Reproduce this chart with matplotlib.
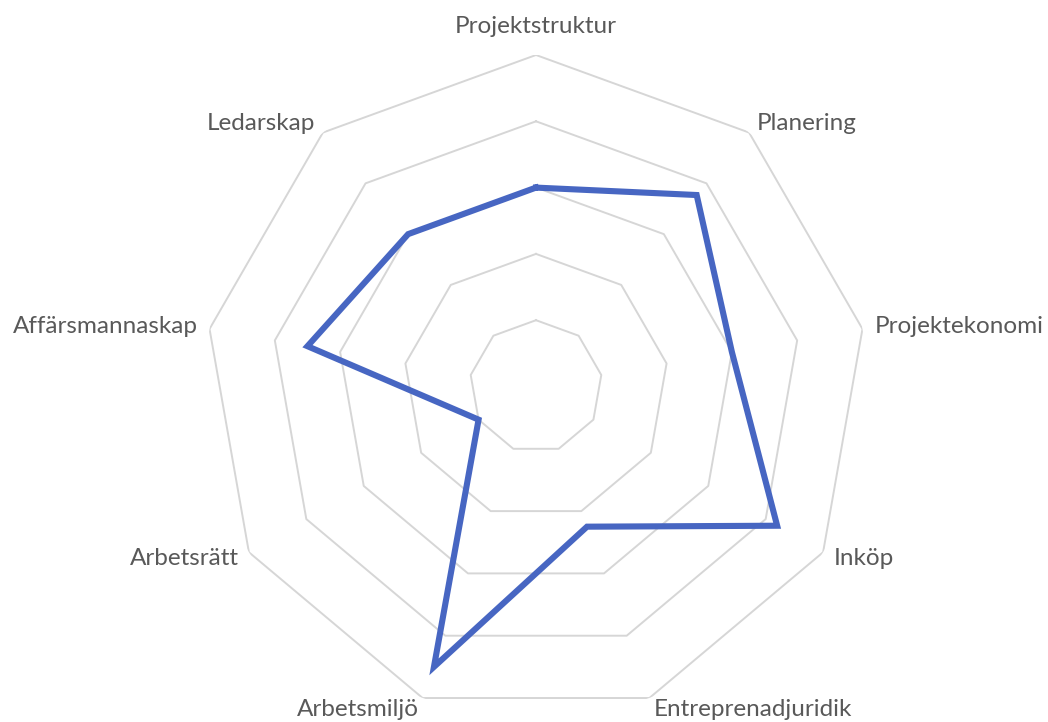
import numpy as np
import matplotlib.pyplot as plt

# Kategorier och värden
kategorier = ['Projektstruktur', 'Planering', 'Projektekonomi', 'Inköp',
              'Entreprenadjuridik', 'Arbetsmiljö', 'Arbetsrätt',
              'Affärsmannaskap', 'Ledarskap']
varden = [3.0, 3.77, 3.0, 4.2, 2.25, 4.5, 1.0, 3.5, 3.0]
ringar = [1, 2, 3, 4, 5]

n = len(kategorier)
vinklar = np.arange(n) * 2 * np.pi / n

fig = plt.figure(figsize=(10.48, 7.22), dpi=100)
ax = fig.add_axes([204.5 / 1048, 4 / 722, 663 / 1048, 663 / 722], projection='polar')
ax.set_theta_zero_location('N')
ax.set_theta_direction(-1)
ax.set_ylim(0, 5)
ax.grid(False)
ax.spines['polar'].set_visible(False)
ax.set_xticks([])
ax.set_yticks([])
ax.patch.set_alpha(0)

# Nätet (niohörningar)
vt = np.append(vinklar, vinklar[0])
for r in ringar:
    ax.plot(vt, [r] * (n + 1), color='#d6d6d6', lw=1.4, zorder=1)

# Dataserien
ax.plot(vt, varden + varden[:1], color='#4766c2', lw=4.4,
        solid_joinstyle='miter', zorder=3)

# Etiketter
for namn, v in zip(kategorier, vinklar):
    s, c = np.sin(v), np.cos(v)
    if abs(s) < 0.1:
        ha, va, off = 'center', 'bottom', (0, 18)
    else:
        ha = 'left' if s > 0 else 'right'
        va = 'center'
        off = (12 * s, 12 * c)
    ax.annotate(namn, xy=(v, 5), xytext=(off[0] * 0.72, off[1] * 0.72),
                textcoords='offset points', ha=ha, va=va,
                fontsize=17.5, color='#595959', family='Lato',
                annotation_clip=False)

fig.savefig('out.png', dpi=100)
